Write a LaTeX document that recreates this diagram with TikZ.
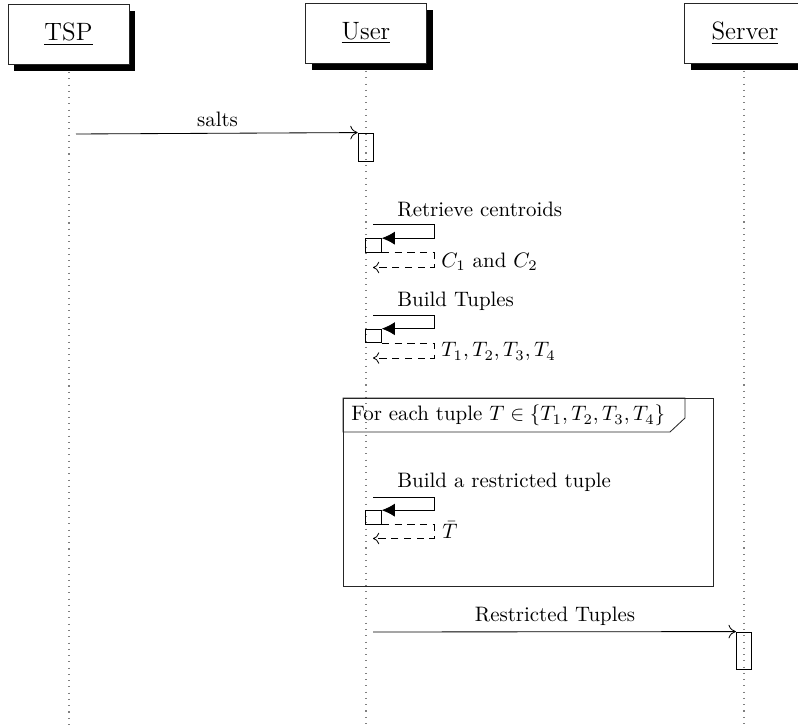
\documentclass[tikz,border=0pt]{standalone}
\usetikzlibrary{arrows.meta,shadows}
\begin{document}
\begin{tikzpicture}[x=0.4785pt,y=-0.4785pt,
  thread/.style={draw=black!85, fill=white, minimum width=57.9pt, minimum height=28.7pt,
    inner sep=0pt, font=\large,
    drop shadow={shadow xshift=2.9pt, shadow yshift=-3.3pt, fill=black, opacity=1}},
  lifeline/.style={draw=gray, line width=0.5pt, dash pattern=on 0.5pt off 2.5pt},
  actbox/.style={draw, minimum width=7.4pt, inner sep=0pt},
  callbox/.style={draw, minimum width=7.4pt, minimum height=6.6pt, inner sep=0pt},
  msg/.style={-{To[length=3.5pt,width=6.5pt]}},
  callarrow/.style={-{Latex[length=6.3pt,width=6.3pt]}},
  retarrow/.style={dash pattern=on 3.5pt off 2.6pt, -{To[length=3pt,width=5.5pt]}},
  lbl/.style={inner sep=0pt, anchor=base},
  rlbl/.style={inner sep=0pt, anchor=base west},
  framebox/.style={draw=black!85}]
\useasboundingbox (0,0) rectangle (798,726);

% lifelines
\coordinate (tsptop) at (69,72);   \coordinate (tspend) at (69,726);
\coordinate (usertop) at (366,71); \coordinate (userend) at (366,726);
\coordinate (srvtop) at (744,71);  \coordinate (srvend) at (744,726);
\draw[lifeline] (tsptop) -- (tspend);
\draw[lifeline] (usertop) -- (userend);
\draw[lifeline] (srvtop) -- (srvend);

% headers
\node[thread] (tsp) at (68.5,34) {\underline{TSP}};
\node[thread] (user) at (366,33) {\underline{User}};
\node[thread] (server) at (745,33) {\underline{Server}};

% salts
\node[actbox, minimum height=13.4pt] (act1) at (365.8,147) {};
\coordinate (s1) at (76,134);
\draw[msg] (s1) -- (act1.north west);
\node[lbl] (saltslbl) at (217.5,127) {salts};

% Retrieve centroids
\node[rlbl] (l1) at (397,216.5) {Retrieve centroids};
\coordinate (c1) at (373,224);
\node[callbox] (box1) at (373.6,245.5) {};
\draw[callarrow] (c1) -- ++(61,0) |- (box1.north east);
\coordinate (r1) at (373,267.5);
\draw[retarrow] (box1.south east) -- ++(52.5,0) |- (r1);
\node[rlbl] (t1) at (441,267.5) {$C_1$ and $C_2$};

% Build Tuples
\node[rlbl] (l2) at (397,307) {Build Tuples};
\coordinate (c2) at (373,315);
\node[callbox] (box2) at (373.6,336) {};
\draw[callarrow] (c2) -- ++(61,0) |- (box2.north east);
\coordinate (r2) at (373,358);
\draw[retarrow] (box2.south east) -- ++(52.5,0) |- (r2);
\node[rlbl] (t2) at (441,357) {$T_1, T_2, T_3, T_4$};

% loop frame
\draw[framebox] (343,398) rectangle (713,586);
\draw[framebox] (343,398) -- (685,398) -- (685,418) -- (670,432) -- (343,432) -- cycle;
\node[rlbl] (fl) at (351,421) {For each tuple $T \in \{T_1, T_2, T_3, T_4\}$};

% Build a restricted tuple
\node[rlbl] (l3) at (397,487.5) {Build a restricted tuple};
\coordinate (c3) at (373,497);
\node[callbox] (box3) at (373.6,517.5) {};
\draw[callarrow] (c3) -- ++(61,0) |- (box3.north east);
\coordinate (r3) at (373,538.5);
\draw[retarrow] (box3.south east) -- ++(52.5,0) |- (r3);
\node[rlbl] (t3) at (442,538.5) {$\bar{T}$};

% Restricted Tuples
\node[actbox, minimum height=17.7pt] (act2) at (744,650.5) {};
\coordinate (s2) at (373,632);
\draw[msg] (s2) -- (act2.north west);
\node[lbl] (rtlbl) at (555,622) {Restricted Tuples};
\end{tikzpicture}
\end{document}
